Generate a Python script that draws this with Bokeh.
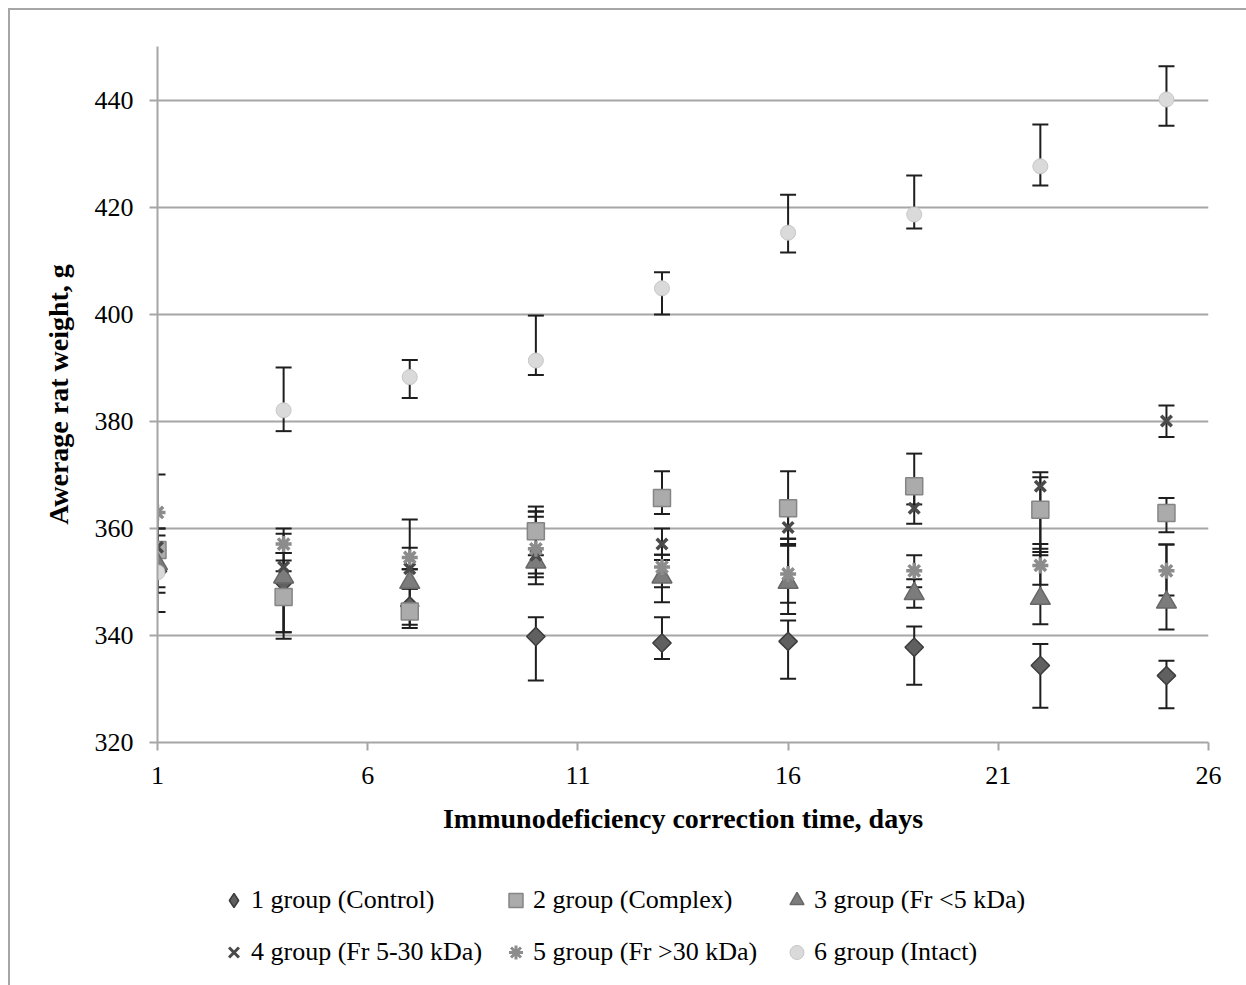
import math
from bokeh.plotting import figure
from bokeh.layouts import column
from bokeh.models import (ColumnDataSource, Whisker, TeeHead, FixedTicker,
                          Legend, LegendItem, Range1d)
from bokeh.embed import file_html
from bokeh.resources import INLINE

# ---------------- data ----------------
days = [1, 4, 7, 10, 13, 16, 19, 22, 25]

names = ["1 group (Control)", "2 group (Complex)", "3 group (Fr <5 kDa)",
         "4 group (Fr 5-30 kDa)", "5 group (Fr >30 kDa)", "6 group (Intact)"]

g1 = [352.0, 350.0, 345.5, 339.8, 338.6, 338.9, 337.8, 334.4, 332.5]
g1_hi = [356.0, 354.0, 349.0, 343.4, 343.4, 342.8, 341.7, 338.4, 335.3]
g1_lo = [348.0, 340.6, 342.0, 331.6, 335.6, 331.9, 330.8, 326.5, 326.4]

g2 = [356.0, 347.2, 344.5, 359.5, 365.7, 363.8, 367.9, 363.5, 362.9]
g2_hi = [360.0, 352.0, 348.8, 364.1, 370.7, 370.7, 374.0, 369.6, 365.7]
g2_lo = [352.0, 339.4, 341.4, 355.0, 362.7, 358.1, 364.5, 356.2, 359.3]

g3 = [353.4, 350.9, 349.9, 353.7, 350.9, 349.9, 347.8, 346.9, 346.2]
g3_hi = [358.7, 355.4, 352.4, 362.2, 354.1, 356.8, 350.5, 355.6, 357.0]
g3_lo = [349.0, 340.6, 348.8, 349.6, 346.2, 344.0, 345.2, 342.1, 341.1]

g4 = [356.5, 352.8, 352.5, 355.0, 357.1, 360.2, 363.8, 367.9, 380.1]
g4_hi = [360.0, 359.0, 356.4, 363.2, 360.0, 363.0, 367.0, 370.5, 383.0]
g4_lo = [352.0, 348.0, 348.8, 350.9, 355.1, 357.1, 360.9, 355.0, 377.1]

g5 = [363.0, 357.1, 354.6, 356.2, 352.8, 351.5, 352.1, 353.1, 352.1]
g5_hi = [370.1, 360.0, 361.7, 363.2, 355.1, 358.1, 355.0, 357.1, 357.0]
g5_lo = [356.0, 355.4, 352.4, 351.6, 349.0, 346.1, 349.0, 349.5, 347.5]

g6 = [351.8, 382.1, 388.3, 391.4, 404.9, 415.3, 418.7, 427.7, 440.2]
g6_hi = [356.0, 390.1, 391.5, 399.8, 407.9, 422.4, 426.0, 435.5, 446.4]
g6_lo = [344.4, 378.2, 384.4, 388.7, 400.0, 411.6, 416.1, 424.1, 435.3]

x_ticks = [1, 6, 11, 16, 21, 26]
y_ticks = [320, 340, 360, 380, 400, 420, 440]

# ---------------- main figure ----------------
FONT = "Liberation Serif"
GRID = "#a6a6a6"

p = figure(output_backend="svg", toolbar_location=None,
           frame_width=1051, frame_height=696,
           min_border_left=147, min_border_right=38,
           min_border_top=36, min_border_bottom=118,
           x_range=Range1d(1, 26), y_range=Range1d(320, 450.1),
           background_fill_color="white", border_fill_color="white")
p.outline_line_color = None

p.xgrid.grid_line_color = None
p.ygrid.grid_line_color = GRID
p.ygrid.grid_line_width = 2
p.ygrid.ticker = FixedTicker(ticks=y_ticks)

for ax in (p.xaxis[0], p.yaxis[0]):
    ax.axis_line_color = GRID
    ax.axis_line_width = 2
    ax.major_tick_line_color = GRID
    ax.major_tick_line_width = 2
    ax.major_tick_in = 0
    ax.major_tick_out = 8
    ax.minor_tick_line_color = None
    ax.major_label_text_font = FONT
    ax.major_label_text_font_size = "26px"
    ax.major_label_text_color = "black"
    ax.axis_label_text_font = FONT
    ax.axis_label_text_font_size = "28px"
    ax.axis_label_text_font_style = "bold"
    ax.axis_label_text_color = "black"

p.xaxis.ticker = FixedTicker(ticks=x_ticks)
p.yaxis.ticker = FixedTicker(ticks=y_ticks)
p.xaxis.major_label_standoff = 16
p.yaxis.major_label_standoff = 16
p.xaxis.axis_label = "Immunodeficiency correction time, days"
p.yaxis.axis_label = "Awerage rat weight, g"
p.xaxis.axis_label_standoff = 16
p.yaxis.axis_label_standoff = 18

styles = [
    dict(marker="square", size=13, angle=math.pi / 4,
         fill_color="#606060", line_color="#3c3c3c", line_width=1.5),
    dict(marker="square", size=17,
         fill_color="#ababab", line_color="#858585", line_width=1.5),
    dict(marker="triangle", size=20,
         fill_color="#7c7c7c", line_color="#686868", line_width=1.5),
    dict(marker="x", size=15, line_color="#4a4a4a", line_width=3.5),
    dict(marker="asterisk", size=16, line_color="#8c8c8c", line_width=3.5),
    dict(marker="circle", size=15,
         fill_color="#dadada", line_color="#c6c6c6", line_width=1),
]
series = [(g1, g1_hi, g1_lo), (g2, g2_hi, g2_lo), (g3, g3_hi, g3_lo),
          (g4, g4_hi, g4_lo), (g5, g5_hi, g5_lo), (g6, g6_hi, g6_lo)]

for (vals, hi, lo), style in zip(series, styles):
    src = ColumnDataSource(dict(x=days, y=vals, upper=hi, lower=lo))
    w = Whisker(source=src, base="x", upper="upper", lower="lower",
                dimension="height", line_color="#1e1e1e", line_width=2,
                upper_head=TeeHead(size=16, line_color="#1e1e1e", line_width=2),
                lower_head=TeeHead(size=16, line_color="#1e1e1e", line_width=2))
    p.add_layout(w)
    p.scatter("x", "y", source=src, **style)

# ---------------- legend strip ----------------
lg = figure(output_backend="svg", toolbar_location=None, width=1236, height=125,
            x_range=Range1d(0, 1), y_range=Range1d(0, 1),
            x_axis_location=None, y_axis_location=None,
            min_border=0, min_border_left=0, min_border_right=0,
            min_border_top=0, min_border_bottom=0,
            background_fill_color="white", border_fill_color="white")
lg.outline_line_color = None
lg.grid.grid_line_color = None

legend_styles = [dict(s) for s in styles]
legend_styles[0].pop("angle")
legend_styles[0]["marker"] = "square_pin"
legend_styles[0] = dict(marker="diamond", fill_color="#606060",
                        line_color="#3c3c3c", line_width=1.5)
legend_styles[3]["line_width"] = 3
legend_styles[4]["line_width"] = 3

nan = float("nan")
items = []
for name, style in zip(names, legend_styles):
    r = lg.scatter(x=[nan], y=[nan], **style)
    items.append(LegendItem(label=name, renderers=[r]))

legend = Legend(items=items, orientation="horizontal", ncols=3,
                location=(59, 15),
                label_text_font=FONT, label_text_font_size="26px",
                label_text_color="black", label_standoff=0,
                label_width=230, glyph_width=35, glyph_height=36, spacing=16,
                padding=0, margin=0,
                border_line_color=None, background_fill_alpha=0)
lg.add_layout(legend, "center")

layout = column(p, lg, spacing=0)
layout.styles = {"border-left": "2px solid #a6a6a6", "border-top": "2px solid #a6a6a6",
                 "margin-left": "8px", "margin-top": "8px"}

open("out.html", "w").write(file_html(layout, INLINE))
